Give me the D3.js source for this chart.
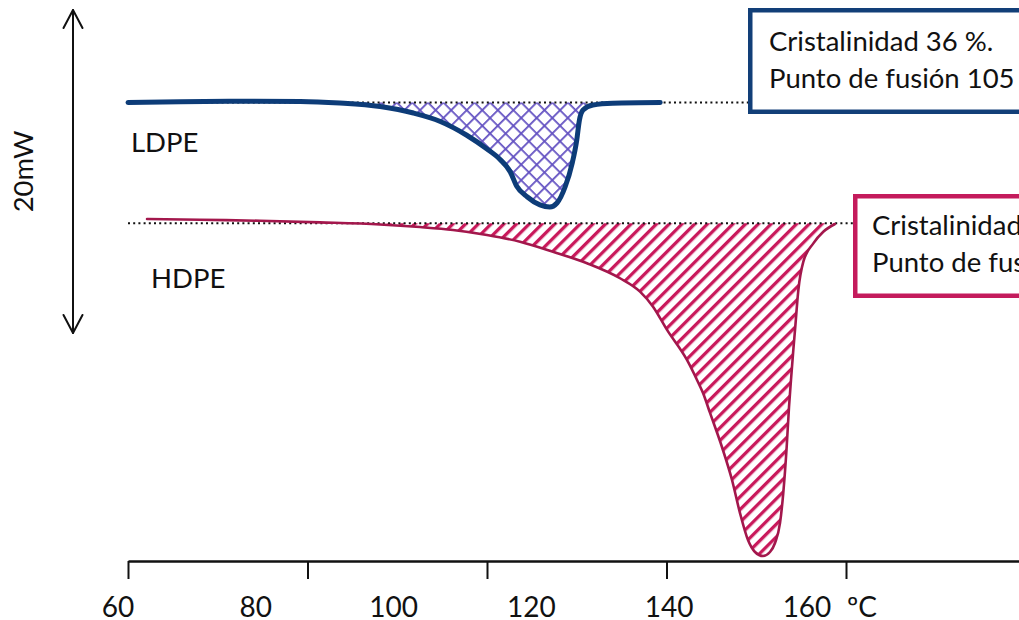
<!DOCTYPE html>
<html>
<head>
<meta charset="utf-8">
<script src="https://cdn.jsdelivr.net/npm/d3@7"></script>
<style>
  html, body { margin: 0; padding: 0; background: #fff; }
  svg { display: block; }
  text { font-family: Lato, "Open Sans", sans-serif; fill: #111; }
</style>
</head>
<body>
<svg id="chart" width="1019" height="620"></svg>
<script>
// DSC melting endotherms of LDPE and HDPE (temperature in ºC, heat flow in mW)
const ldpeTemp = [60.0, 65.8, 72.5, 79.2, 83.6, 88.1, 91.8, 94.8, 97.7, 100.0, 101.4, 102.6, 103.3,
                  104.5, 105.9, 107.0, 107.8, 108.7, 109.5, 110.0, 110.3, 110.7, 111.8, 114.0, 119.3];
const ldpeFlow = [14.27, 14.32, 14.35, 14.34, 14.24, 14.02, 13.62, 13.10, 12.26, 11.39, 10.77, 9.97, 9.10,
                  8.42, 7.93, 7.80, 8.05, 9.04, 10.53, 11.95, 13.19, 13.81, 14.12, 14.23, 14.27];
const ldpeBase = 14.28;

const hdpeTemp = [62.12, 68.02, 74.71, 81.39, 88.08, 92.53, 96.21, 100.0, 103.68, 107.35, 111.14, 114.82,
                  117.05, 118.50, 120.06, 122.28, 123.40, 124.07, 124.85, 126.18, 127.30, 128.19, 129.08,
                  129.86, 130.75, 131.53, 132.09, 132.65, 133.01, 133.39, 133.65, 133.87, 134.13, 134.32,
                  134.69, 135.24, 136.36, 137.47, 138.77];
const hdpeFlow = [7.06, 7.01, 6.95, 6.85, 6.72, 6.56, 6.38, 6.07, 5.65, 5.03, 4.32, 3.39,
                  2.56, 1.63, 0.19, -1.67, -2.91, -3.72, -4.95, -7.06, -9.10, -11.15, -12.82,
                  -13.56, -13.81, -13.56, -13.00, -11.76, -9.91, -7.06, -4.58, -2.91, -1.05, 0.19,
                  2.66, 4.40, 5.55, 6.27, 6.75];
const hdpeBase = 6.80;

// axis ticks and their labels
const tickValues = [60, 80, 100, 120, 140, 160];
const tickLabels = ["60", "80", "100", "120", "140", "160"];
const unitLabel = "ºC";
const scaleBarMW = [0, 20];
const scaleBarLabel = "20mW";

// annotation boxes
const ldpeName = "LDPE";
const hdpeName = "HDPE";
const ldpeNotes = ["Cristalinidad 36 %.", "Punto de fusión 105 ºC."];
const hdpeNotes = ["Cristalinidad 74 %.", "Punto de fusión 131 ºC."];

const C = {
  ldpeLine: "#0d3c78", ldpeHatch: "#6452c2", ldpeBox: "#123f78",
  hdpeLine: "#a3174c", hdpeHatch: "#c9195b", hdpeBox: "#c41b5c"
};

const svg = d3.select("#chart");
const x = d3.scaleLinear().domain([60, 160]).range([128, 1025.5]);
const y = d3.scaleLinear().domain([0, 20]).range([333, 10]);
const labelX = d3.scalePoint().domain(tickLabels).range([118, 807]);

// hatch patterns: diagonal lattice for LDPE, diagonal stripes for HDPE
const defs = svg.append("defs");
const cross = defs.append("pattern").attr("id", "crossHatch")
  .attr("patternUnits", "userSpaceOnUse").attr("width", 11).attr("height", 11)
  .attr("patternTransform", "rotate(45)");
cross.append("path")
  .attr("d", "M0,0.9 H11 M0.9,0 V11")
  .attr("stroke", C.ldpeHatch).attr("stroke-width", 1.8).attr("fill", "none");

const stripes = defs.append("pattern").attr("id", "stripeHatch")
  .attr("patternUnits", "userSpaceOnUse").attr("width", 9).attr("height", 9)
  .attr("patternTransform", "rotate(45)");
stripes.append("rect").attr("x", 0).attr("y", 0).attr("width", 3.3).attr("height", 9)
  .attr("fill", C.hdpeHatch);

const ldpe = ldpeTemp.map((t, i) => ({ t, f: ldpeFlow[i] }));
const hdpe = hdpeTemp.map((t, i) => ({ t, f: hdpeFlow[i] }));

function drawSeries(data, base, pattern, lineColor, lineWidth, boxLeft) {
  const area = d3.area().curve(d3.curveMonotoneX)
    .x(d => x(d.t)).y0(y(base)).y1(d => y(Math.min(d.f, base)));
  svg.append("path").datum(data).attr("d", area).attr("fill", `url(#${pattern})`);

  svg.append("line")
    .attr("x1", x(60)).attr("x2", boxLeft)
    .attr("y1", y(base)).attr("y2", y(base))
    .attr("stroke", "#111").attr("stroke-width", 2).attr("stroke-dasharray", "2,3.2");

  const line = d3.line().curve(d3.curveMonotoneX).x(d => x(d.t)).y(d => y(d.f));
  svg.append("path").datum(data).attr("d", line)
    .attr("fill", "none").attr("stroke", lineColor).attr("stroke-width", lineWidth)
    .attr("stroke-linecap", "round").attr("stroke-linejoin", "round");
}

drawSeries(hdpe, hdpeBase, "stripeHatch", C.hdpeLine, 2.6, 853);
drawSeries(ldpe, ldpeBase, "crossHatch", C.ldpeLine, 5, 748);

// annotation boxes
function noteBox(left, top, height, color, lines, textX, baseline1, gap) {
  svg.append("rect")
    .attr("x", left + 2.25).attr("y", top + 2.25)
    .attr("width", 1100 - left).attr("height", height - 4.5)
    .attr("fill", "#fff").attr("stroke", color).attr("stroke-width", 4.5);
  svg.selectAll(null).data(lines).join("text")
    .attr("x", textX).attr("y", (d, i) => baseline1 + i * gap)
    .attr("font-size", 27.5).text(d => d);
}
noteBox(748, 8, 106, C.ldpeBox, ldpeNotes, 769, 51, 37);
noteBox(853, 194, 104, C.hdpeBox, hdpeNotes, 872, 235, 37);

// series names
svg.append("text").attr("x", 131).attr("y", 152).attr("font-size", 27.5).text(ldpeName);
svg.append("text").attr("x", 151).attr("y", 288).attr("font-size", 27.5).text(hdpeName);

// temperature axis
const axis = d3.axisBottom(x).tickValues(tickValues).tickFormat("").tickSize(18).tickSizeOuter(0);
const gx = svg.append("g").attr("transform", `translate(0,${561})`).call(axis);
gx.select(".domain").attr("stroke", "#111").attr("stroke-width", 2.5);
gx.selectAll(".tick line").attr("stroke", "#111").attr("stroke-width", 2);

svg.selectAll(null).data(tickLabels).join("text")
  .attr("x", d => labelX(d)).attr("y", 617)
  .attr("text-anchor", "middle").attr("font-size", 28).text(d => d);
svg.append("text").attr("x", labelX(tickLabels[tickLabels.length - 1]) + 40).attr("y", 617)
  .attr("font-size", 28).text(unitLabel);

// 20 mW scale bar
const barX = 73;
const bar = svg.append("g").attr("stroke", "#111").attr("stroke-width", 2).attr("fill", "none")
  .attr("stroke-linecap", "round").attr("stroke-linejoin", "round");
bar.append("line").attr("x1", barX).attr("x2", barX).attr("y1", y(scaleBarMW[1])).attr("y2", y(scaleBarMW[0]));
bar.append("path").attr("d", `M${barX - 9.5},${y(scaleBarMW[1]) + 18} L${barX},${y(scaleBarMW[1])} L${barX + 9.5},${y(scaleBarMW[1]) + 18}`);
bar.append("path").attr("d", `M${barX - 9.5},${y(scaleBarMW[0]) - 18} L${barX},${y(scaleBarMW[0])} L${barX + 9.5},${y(scaleBarMW[0]) - 18}`);
svg.append("text")
  .attr("transform", `translate(33,${(y(scaleBarMW[0]) + y(scaleBarMW[1])) / 2}) rotate(-90)`)
  .attr("text-anchor", "middle").attr("font-size", 27.5).text(scaleBarLabel);
</script>
</body>
</html>
